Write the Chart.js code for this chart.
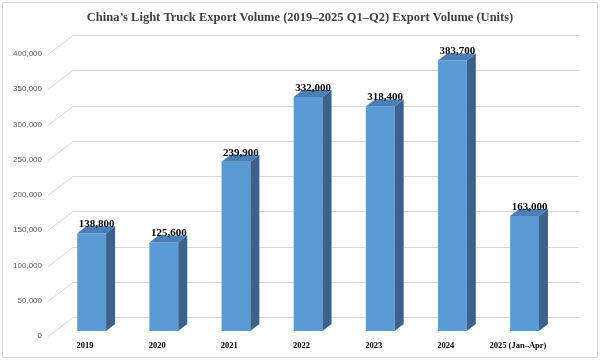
<!DOCTYPE html>
<html>
<head>
<meta charset="utf-8">
<script src="https://cdn.jsdelivr.net/npm/chart.js@4/dist/chart.umd.min.js"></script>
<style>
  html, body { margin: 0; padding: 0; background: #ffffff; }
  #wrap { width: 600px; height: 360px; position: relative; }
</style>
</head>
<body>
<div id="wrap"><canvas id="c" width="600" height="360"></canvas></div>
<script>
// ---- data ----
const titleText = 'China\u2019s Light Truck Export Volume (2019\u20132025 Q1\u2013Q2) Export Volume (Units)';
const categories = ['2019', '2020', '2021', '2022', '2023', '2024', '2025 (Jan\u2013Apr)'];
const volumes = [138800, 125600, 239900, 332000, 318400, 383700, 163000];
const yMin = 0;
const yMax = 400000;
const yStep = 50000;

// ---- 3D look ----
const WALL_DX = 25, WALL_DY = 19;      // depth from front plane to back wall
const BAR_OX = 6.6, BAR_OY = 5;        // bar front plane offset
const BAR_DX = 9, BAR_DY = 7;          // bar depth
const FRONT = '#5B9BD5', SIDE = '#3A628A', TOP = '#4A7EB5';

const fmt = v => v.toLocaleString('en-US');

const threeD = {
  id: 'threeD',
  beforeDraw(chart) {
    const ctx = chart.ctx;
    ctx.save();
    ctx.fillStyle = '#ffffff';
    ctx.fillRect(0, 0, chart.width, chart.height);
    ctx.strokeStyle = '#D9D9D9';
    ctx.lineWidth = 1;
    ctx.strokeRect(2.5, 2.5, 595, 355);
    // title
    ctx.fillStyle = '#404040';
    ctx.font = 'bold 12.5px "Liberation Serif"';
    ctx.textAlign = 'center';
    ctx.textBaseline = 'middle';
    ctx.fillText(titleText, 300, 18);
    ctx.restore();
  },
  beforeDatasetsDraw(chart) {
    const ctx = chart.ctx;
    const y = chart.scales.y;
    const a = chart.chartArea;
    ctx.save();
    ctx.strokeStyle = '#D9D9D9';
    ctx.lineWidth = 1;
    y.ticks.forEach(t => {
      const py = Math.round(y.getPixelForValue(t.value)) + 0.5;
      ctx.beginPath();
      ctx.moveTo(a.left - 1, py);
      ctx.lineTo(a.left - 1 + WALL_DX, py - WALL_DY);
      ctx.lineTo(a.right + WALL_DX, py - WALL_DY);
      ctx.stroke();
    });
    ctx.restore();
    ctx.save();
    ctx.translate(BAR_OX, -BAR_OY);
  },
  afterDatasetsDraw(chart) {
    const ctx = chart.ctx;
    ctx.restore();
    const meta = chart.getDatasetMeta(0);
    ctx.save();
    meta.data.forEach((bar, i) => {
      const p = bar.getProps(['x', 'y', 'base', 'width'], true);
      const xl = p.x - p.width / 2 + BAR_OX;
      const xr = p.x + p.width / 2 + BAR_OX;
      const top = p.y - BAR_OY;
      const base = p.base - BAR_OY;
      // side face
      ctx.fillStyle = SIDE;
      ctx.beginPath();
      ctx.moveTo(xr, top);
      ctx.lineTo(xr + BAR_DX, top - BAR_DY);
      ctx.lineTo(xr + BAR_DX, base - BAR_DY);
      ctx.lineTo(xr, base);
      ctx.closePath();
      ctx.fill();
      // top face
      ctx.fillStyle = TOP;
      ctx.beginPath();
      ctx.moveTo(xl, top);
      ctx.lineTo(xl + BAR_DX, top - BAR_DY);
      ctx.lineTo(xr + BAR_DX, top - BAR_DY);
      ctx.lineTo(xr, top);
      ctx.closePath();
      ctx.fill();
      // value label
      ctx.fillStyle = '#000000';
      ctx.font = 'bold 11px "Liberation Serif"';
      ctx.textAlign = 'center';
      ctx.textBaseline = 'middle';
      ctx.fillText(fmt(volumes[i]), p.x + BAR_OX + 5, top - 9);
    });
    ctx.restore();
  }
};

new Chart(document.getElementById('c'), {
  type: 'bar',
  data: {
    labels: categories,
    datasets: [{
      data: volumes,
      backgroundColor: FRONT,
      borderWidth: 0,
      barPercentage: 0.4,
      categoryPercentage: 1.0
    }]
  },
  options: {
    responsive: false,
    animation: false,
    devicePixelRatio: 1,
    layout: { padding: { top: 54, right: 46, left: 0, bottom: 0 } },
    plugins: {
      legend: { display: false },
      title: { display: false },
      tooltip: { enabled: false }
    },
    scales: {
      x: {
        grid: { display: false, drawTicks: false },
        border: { display: false },
        ticks: {
          color: '#000000',
          font: { family: '"Liberation Serif"', size: 8.5, weight: 'bold' },
          padding: 5,
          maxRotation: 0,
          autoSkip: false
        },
        afterFit(s) { s.height = 24; }
      },
      y: {
        min: yMin,
        max: yMax,
        grid: { display: false, drawTicks: false },
        border: { display: false },
        ticks: {
          stepSize: yStep,
          color: '#595959',
          font: { family: '"Liberation Sans"', size: 8 },
          padding: 7,
          callback: v => fmt(v)
        },
        afterFit(s) { s.width = 49; }
      }
    }
  },
  plugins: [threeD]
});
</script>
</body>
</html>
